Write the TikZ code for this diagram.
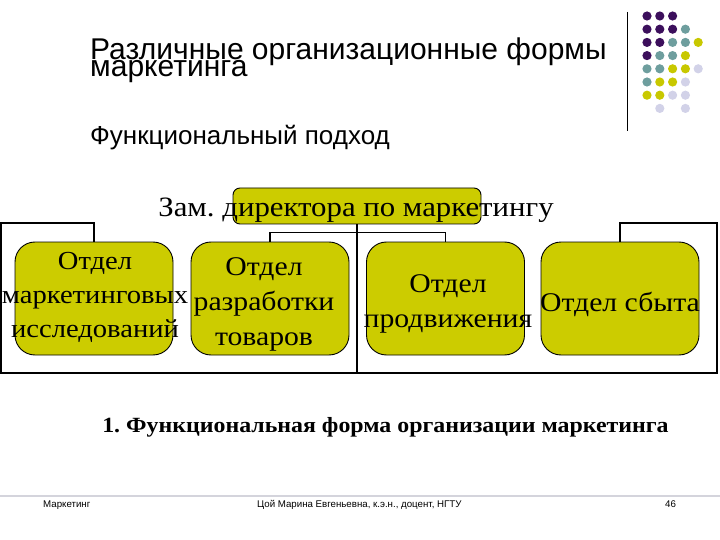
\documentclass[tikz,border=0pt]{standalone}
\usepackage{fontspec}
\setmainfont{Liberation Serif}
\newfontfamily\widefont[FakeStretch=1.1]{Liberation Serif}
\newfontfamily\arialfont{Liberation Sans}
\usetikzlibrary{positioning}
\definecolor{deptyellow}{HTML}{CCCC00}
\definecolor{dotpurple}{HTML}{3C0F5C}
\definecolor{dotteal}{HTML}{6E9E9E}
\definecolor{dotyellow}{HTML}{C8C800}
\definecolor{dotlav}{HTML}{D2D2E8}
\definecolor{footrule}{HTML}{D4D4DC}
\frenchspacing

\begin{document}
\begin{tikzpicture}[
  x=1pt, y=-1pt,
  boss/.style={rounded corners=7pt, draw=black, line width=0.9pt, fill=deptyellow,
               minimum width=248pt, minimum height=36pt, inner sep=0pt},
  dept/.style={rounded corners=20pt, draw=black, line width=0.9pt, fill=deptyellow,
               minimum width=158pt, minimum height=113pt, inner sep=0pt},
  depttxt/.style={align=center, inner sep=0pt, font=\widefont\fontsize{27}{35}\selectfont},
  wire/.style={line width=1.8pt, draw=black},
  head/.style={anchor=base west, inner sep=0pt, font=\arialfont\fontsize{30}{30}\selectfont},
  foot/.style={anchor=base west, inner sep=0pt, font=\arialfont\fontsize{9.7}{9.7}\selectfont},
]
\useasboundingbox (0,0) rectangle (720,540);

% ---- heading ----
\node[head] (title1) at (90,60) {Различные организационные формы};
\node[head] (title2) at (90,77) {маркетинга};
\node[head, font=\arialfont\fontsize{26}{26}\selectfont] (sub) at (90,145) {Функциональный подход};

% ---- decoration (top right) ----
\draw[line width=0.8pt] (627,12) -- (627,131);
\foreach \i/\j/\c in {0/0/dotpurple,1/0/dotpurple,2/0/dotpurple,
                      0/1/dotpurple,1/1/dotpurple,2/1/dotpurple,3/1/dotteal,
                      0/2/dotpurple,1/2/dotpurple,2/2/dotteal,3/2/dotteal,4/2/dotyellow,
                      0/3/dotpurple,1/3/dotteal,2/3/dotteal,3/3/dotyellow,
                      0/4/dotteal,1/4/dotteal,2/4/dotyellow,3/4/dotyellow,4/4/dotlav,
                      0/5/dotteal,1/5/dotyellow,2/5/dotyellow,3/5/dotlav,
                      0/6/dotyellow,1/6/dotyellow,2/6/dotlav,3/6/dotlav,
                      1/7/dotlav,3/7/dotlav}{
  \fill[\c] (647+12.8*\i, 16+13.2*\j) circle (4.6pt);
}

% ---- chart boxes ----
\node[boss] (dir) at (357,206) {};
\node[dept] (b1) at (94,298.5)  {};
\node[dept] (b2) at (270,298.5) {};
\node[dept] (b3) at (445.5,298.5) {};
\node[dept] (b4) at (620,298.5) {};

% ---- free ends of the frame ----
\coordinate (lt) at (1,223);
\coordinate (lb) at (1,373);
\coordinate (rb) at (717,373);
\coordinate (rt) at (717,223);
\coordinate (mb) at (357,373);

% ---- connectors ----
\draw[wire] (b1.north) |- (lt) -- (lb) -- (rb) -- (rt) -| (b4.north);
\draw[wire] (dir.south) -- (mb);
\draw[wire] (b2.north) -- ++(0,-9) -| (b3.north);

% ---- texts ----
\node[anchor=base, inner sep=0pt, font=\widefont\fontsize{28}{28}\selectfont] (dirtxt) at (356,216.5)
      {Зам. директора по маркетингу};
\node[depttxt, font=\widefont\fontsize{26}{34}\selectfont] (t1) at (95,297)
      {Отдел\\маркетинговых\\исследований};
\node[depttxt] (t2) at (264,304) {Отдел\\разработки\\товаров};
\node[depttxt] (t3) at (448,304) {Отдел\\продвижения};
\node[depttxt] (t4) at (620,304) {Отдел сбыта};

% ---- caption ----
\node[anchor=base, inner sep=0pt, font=\widefont\bfseries\fontsize{21.7}{21.7}\selectfont] (cap) at (385.5,432)
      {1. Функциональная форма организации маркетинга};

% ---- footer ----
\draw[footrule, line width=2.4pt] (0,496) -- (720,496);
\node[foot] (f1) at (43,507)  {Маркетинг};
\node[foot] (f2) at (257,507) {Цой Марина Евгеньевна, к.э.н., доцент, НГТУ};
\node[foot] (f3) at (665,507) {46};
\end{tikzpicture}
\end{document}
